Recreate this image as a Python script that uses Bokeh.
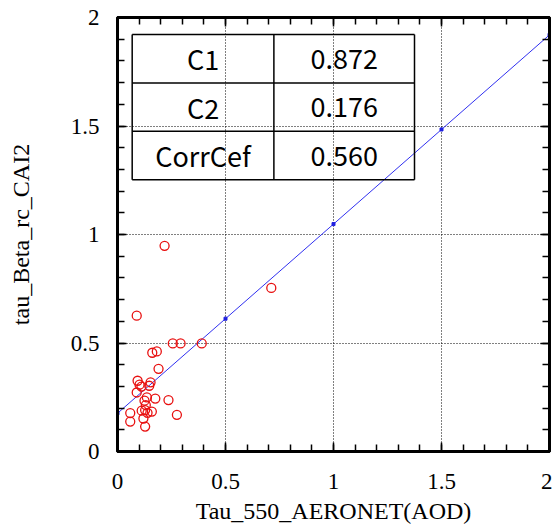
from bokeh.plotting import figure
from bokeh.models import (LinearAxis, SingleIntervalTicker, Range1d, ColumnDataSource,
                          CustomJSTickFormatter)
from bokeh.core.properties import value
from bokeh.embed import file_html
from bokeh.resources import INLINE

# ---- data ----
aod = [0.218, 0.089, 0.256, 0.292, 0.390, 0.712, 0.161, 0.182, 0.190, 0.093,
       0.102, 0.153, 0.147, 0.111, 0.089, 0.136, 0.175, 0.236, 0.125, 0.131,
       0.112, 0.128, 0.159, 0.059, 0.275, 0.059, 0.120, 0.128, 0.139]
cai = [0.948, 0.626, 0.498, 0.498, 0.498, 0.754, 0.455, 0.461, 0.381, 0.326,
       0.308, 0.319, 0.303, 0.299, 0.272, 0.249, 0.244, 0.237, 0.234, 0.214,
       0.188, 0.191, 0.184, 0.177, 0.169, 0.138, 0.152, 0.115, 0.178]
coef_names = ["C1", "C2", "CorrCef"]
coef_values = [0.872, 0.176, 0.560]
fit_x = [0.0, 0.5, 1.0, 1.5, 2.0]
x_title = "Tau_550_AERONET(AOD)"
y_title = "tau_Beta_rc_CAI2"

SERIF = "Liberation Serif"
SANS = "Noto Sans CJK JP"

p = figure(width=552, height=527, x_range=Range1d(0, 2), y_range=Range1d(0, 2),
           output_backend="svg", toolbar_location=None,
           min_border_left=117, min_border_right=3, min_border_top=17, min_border_bottom=76)
p.background_fill_color = "white"
p.border_fill_color = "white"
p.outline_line_color = "black"
p.outline_line_width = 3

fmt = CustomJSTickFormatter(code="return String(Math.round(tick*10)/10)")
blank = CustomJSTickFormatter(code="return ''")

def style_axis(ax, labels=True):
    ax.ticker = SingleIntervalTicker(interval=0.5, num_minor_ticks=5)
    ax.axis_line_color = "black"
    ax.axis_line_width = 3
    ax.major_tick_in = 9
    ax.major_tick_out = 0
    ax.minor_tick_in = 7
    ax.minor_tick_out = 0
    ax.major_tick_line_color = "black"
    ax.minor_tick_line_color = "black"
    ax.major_tick_line_width = 1.5
    ax.minor_tick_line_width = 1.5
    if labels:
        ax.formatter = fmt
        ax.major_label_text_font = SERIF
        ax.major_label_text_font_size = "23px"
        ax.major_label_text_color = "black"
        ax.axis_label_text_font = SERIF
        ax.axis_label_text_font_size = "24px"
        ax.axis_label_text_font_style = "normal"
        ax.axis_label_text_color = "black"
    else:
        ax.formatter = blank
        ax.major_label_text_font_size = "0px"
        ax.major_label_standoff = 0

xa = p.xaxis[0]
ya = p.yaxis[0]
style_axis(xa)
style_axis(ya)
xa.axis_label = x_title
ya.axis_label = y_title
xa.major_label_standoff = 22
ya.major_label_standoff = 18
xa.axis_label_standoff = 6
ya.axis_label_standoff = 34

top_ax = LinearAxis()
right_ax = LinearAxis()
style_axis(top_ax, labels=False)
style_axis(right_ax, labels=False)
p.add_layout(top_ax, "above")
p.add_layout(right_ax, "right")

for g in (p.xgrid[0], p.ygrid[0]):
    g.ticker = SingleIntervalTicker(interval=0.5)
    g.grid_line_color = "black"
    g.grid_line_width = 1
    g.grid_line_dash = "1 2"

# regression line from table coefficients
slope, intercept = coef_values[0], coef_values[1]
fit_y = [slope * x + intercept for x in fit_x]
p.line(fit_x, fit_y, line_color="#3030f0", line_width=1)
p.scatter(fit_x, fit_y, size=3, marker="square", fill_color="#2020e0", line_color="#2020e0")

# scatter points
src = ColumnDataSource(dict(x=aod, y=cai))
p.scatter("x", "y", source=src, marker="circle", size=9, fill_color=None,
          line_color="#e81010", line_width=1.3)

# coefficient table (layout in data units)
t_left, t_mid, t_right = 0.068, 0.724, 1.375
t_top, t_bottom = 1.922, 1.252
n = len(coef_names)
row_h = (t_top - t_bottom) / n
hx0 = [t_left] * (n + 1)
hx1 = [t_right] * (n + 1)
hy = [t_top - i * row_h for i in range(n + 1)]
p.segment(x0=hx0, y0=hy, x1=hx1, y1=hy, line_color="black", line_width=1.5)
vx = [t_left, t_mid, t_right]
p.segment(x0=vx, y0=[t_bottom] * 3, x1=vx, y1=[t_top] * 3, line_color="black", line_width=1.5)

cy = [t_top - (i + 0.5) * row_h for i in range(n)]
p.text(x=[(t_left + t_mid) / 2] * n, y=cy, text=coef_names,
       text_font=value(SANS), text_font_size="27px", text_align="center",
       text_baseline="middle", text_color="black")
p.text(x=[(t_mid + t_right) / 2] * n, y=cy, text=["%.3f" % v for v in coef_values],
       text_font=value(SANS), text_font_size="27px", text_align="center",
       text_baseline="middle", text_color="black")

open("out.html", "w").write(file_html(p, INLINE))
